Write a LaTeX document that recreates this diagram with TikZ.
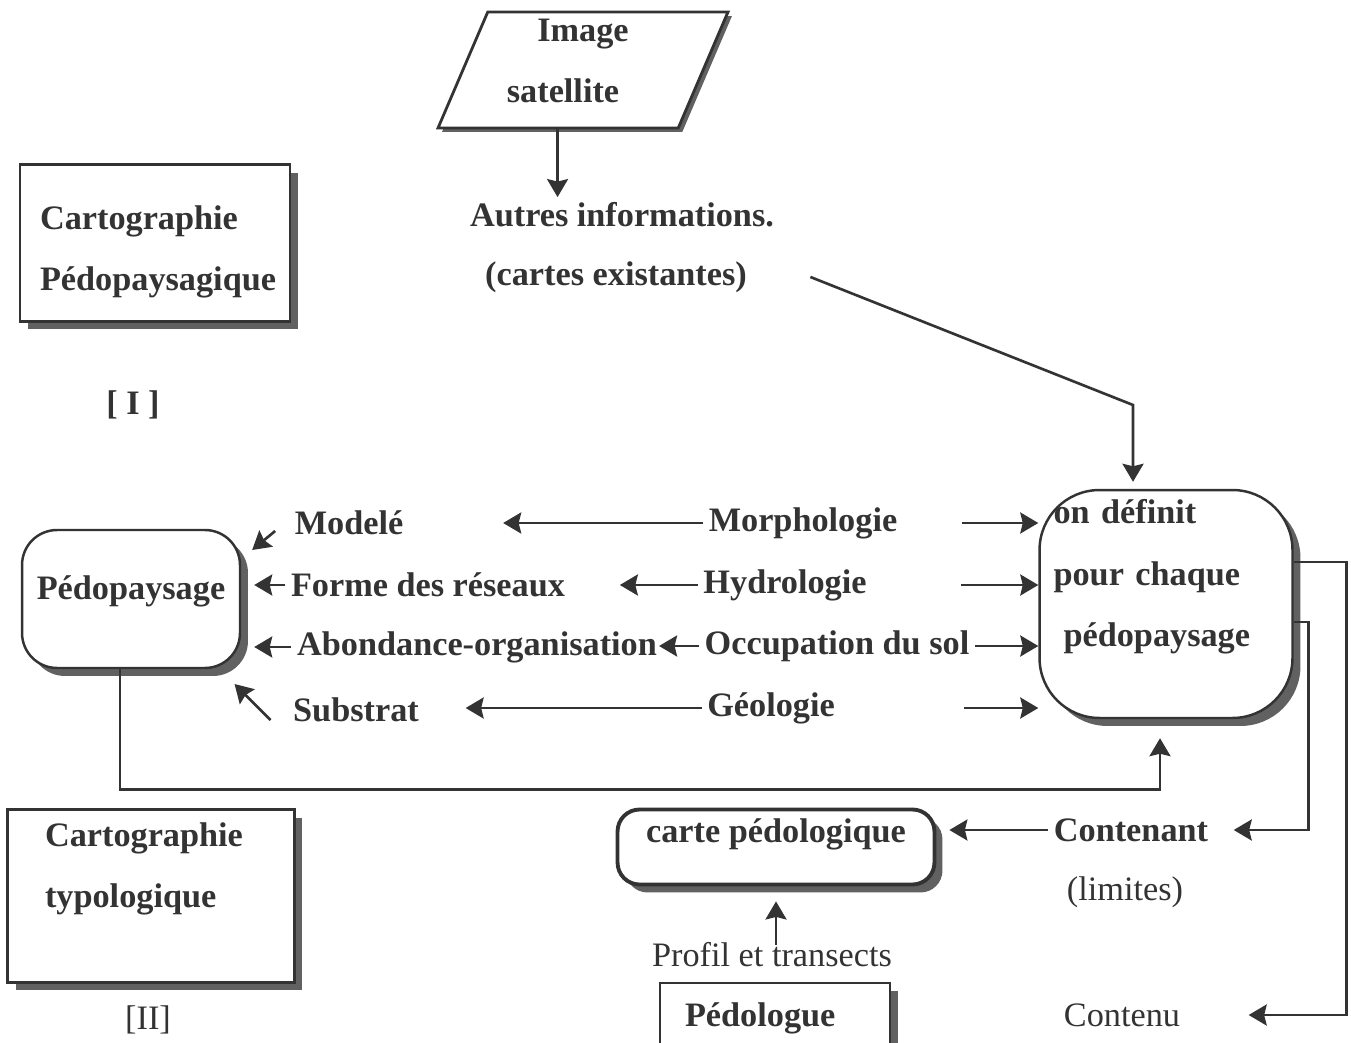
\documentclass[tikz,border=0pt]{standalone}
\usepackage{fontspec}
\setmainfont{Liberation Serif}
\usetikzlibrary{arrows.meta,shapes.geometric,shadows}
\definecolor{ink}{gray}{0.2}
\definecolor{shade}{gray}{0.38}
\newcommand\bigsz{\fontsize{19.5}{35}\selectfont}

\begin{document}
\begin{tikzpicture}[
	x=0.02cm, y=-0.02cm,
	node distance=1.24cm,
	font=\bigsz\bfseries,
	text=ink,
	shad/.style={
		drop shadow={shadow xshift=0.16cm, shadow yshift=-0.16cm, fill=shade, opacity=1}
	},
	box/.style={
		rectangle, draw=ink, line width=1.5pt, fill=white, shad, align=left
	},
	rbox/.style={
		rectangle, rounded corners=0.7cm, draw=ink, line width=1.4pt, fill=white, shad
	},
	para/.style={
		trapezium, trapezium left angle=64, trapezium right angle=116,
		trapezium stretches body, draw=ink, line width=1.6pt, fill=white,
		minimum width=5.8cm, minimum height=2.32cm, inner ysep=0pt, align=center,
		drop shadow={shadow xshift=0.08cm, shadow yshift=-0.08cm, fill=shade, opacity=1}
	},
	lbl/.style={inner sep=3pt},
	thin/.style={font=\bigsz\mdseries, inner sep=3pt},
	arr/.style={
		draw=ink, line width=1.5pt,
		-{Stealth[length=0.36cm, width=0.42cm, inset=0.05cm]}
	}
	]

	\fill[white] (0,0) rectangle (1351,1043);
	\useasboundingbox (0,0) rectangle (1351,1043);

	\node [box, minimum width=5.4cm, minimum height=3.14cm, text width=4.6cm] (cartoI) at (155,243) {\rule{0pt}{0.84cm}Cartographie\\Pédopaysagique};
	\node [lbl] (numI) at (133,405) {[ I ]};

	\node [para] (img) at (583,70) {Image\\satellite\hspace*{0.8cm}\rule[-0.36cm]{0pt}{0pt}};
	\node [lbl] (autres) at (622,215) {Autres informations.};
	\node [lbl, below of=autres, xshift=-0.12cm] (cartes) {(cartes existantes)};
	\coordinate (bend) at (1133,405);

	\node [rbox, minimum width=4.36cm, minimum height=2.76cm, text height=0.5cm, text depth=0.5cm] (pedo) at (131,599) {Pédopaysage};
	\node [lbl] (modele) at (349,523) {Modelé};
	\node [lbl] (forme) at (428,585) {Forme des réseaux};
	\node [lbl] (abond) at (477,647) {Abondance-organisation};
	\node [lbl] (substrat) at (356,710) {Substrat};

	\node [lbl] (morpho) at (803,523) {Morphologie};
	\node [lbl] (hydro) at (785,585) {Hydrologie};
	\node [lbl] (occup) at (837,646) {Occupation du sol};
	\node [lbl] (geol) at (771,708) {Géologie};

	\node [rbox, rounded corners=1.2cm, minimum width=5.06cm, minimum height=4.56cm, text width=4.5cm, align=left] (defin) at (1166,604) {on définit\\pour chaque\\\hspace*{0.2cm}pédopaysage\\\mbox{}};

	\node [box, minimum width=5.74cm, minimum height=3.46cm, text width=4.24cm] (cartoII) at (151,896) {Cartographie\\typologique\\\mbox{}};
	\node [thin] (numII) at (148,1020) {[II]};

	\node [rbox, rounded corners=0.44cm, line width=2.2pt, minimum width=6.34cm, minimum height=1.5cm, inner ysep=0pt, text height=0.5cm, text depth=0.7cm] (carte) at (776,847) {carte pédologique};
	\node [lbl] (contenant) at (1131,830) {Contenant};
	\node [thin, below of=contenant, xshift=-0.12cm] (limites) {(limites)};
	\node [thin] (profil) at (772,955) {Profil et transects};
	\node [box, minimum width=4.6cm, minimum height=1.4cm, text width=3.6cm] (pedologue) at (775,1018) {Pédologue};
	\node [thin] (contenu) at (1122,1015) {Contenu};

	\draw [arr] (img.bottom side) -- (img.bottom side |- autres.north);
	\draw [arr] ([xshift=1.16cm]cartes.east) -- (bend) -- ([yshift=0.14cm]bend |- defin.north);

	\draw [arr] (morpho.west) -- ++(-200,0);
	\draw [arr] ([xshift=1.18cm]morpho.east) -- (morpho.east -| defin.west);
	\draw [arr] (hydro.west) -- ++(-78,0);
	\draw [arr] ([xshift=1.78cm]hydro.east) -- (hydro.east -| defin.west);
	\draw [arr] (occup.west) -- ++(-40,0);
	\draw [arr] (occup.east) -- (occup.east -| defin.west);
	\draw [arr] (geol.west) -- ++(-236,0);
	\draw [arr] ([xshift=2.48cm]geol.east) -- (geol.east -| defin.west);

	\draw [arr] ([shift={(-14,8)}]modele.west) -- ++(-23,19);
	\draw [arr] (forme.west) -- ([xshift=0.26cm]forme.west -| pedo.east);
	\draw [arr] (abond.west) -- ([xshift=0.26cm]abond.west -| pedo.east);
	\draw [arr] ([shift={(-17,10)}]substrat.west) -- ++(-36,-36);

	\draw [arr] ([xshift=-0.22cm]pedo.south) -- ++(0,120) -| ([xshift=-0.12cm, yshift=-0.38cm]defin.south);
	\draw [arr] ([yshift=0.84cm]defin.east) -- ++(53,0) |- ([xshift=1.26cm]contenu.east);
	\draw [arr] ([yshift=-0.36cm]defin.east) -- ++(15,0) |- ([xshift=0.4cm]contenant.east);
	\draw [arr] (contenant.west) -- ([xshift=0.26cm]contenant.west -| carte.east);
	\draw [arr] ([yshift=0.2cm]profil.center -| carte.south) -- ([yshift=-0.3cm]carte.south);

\end{tikzpicture}
\end{document}
